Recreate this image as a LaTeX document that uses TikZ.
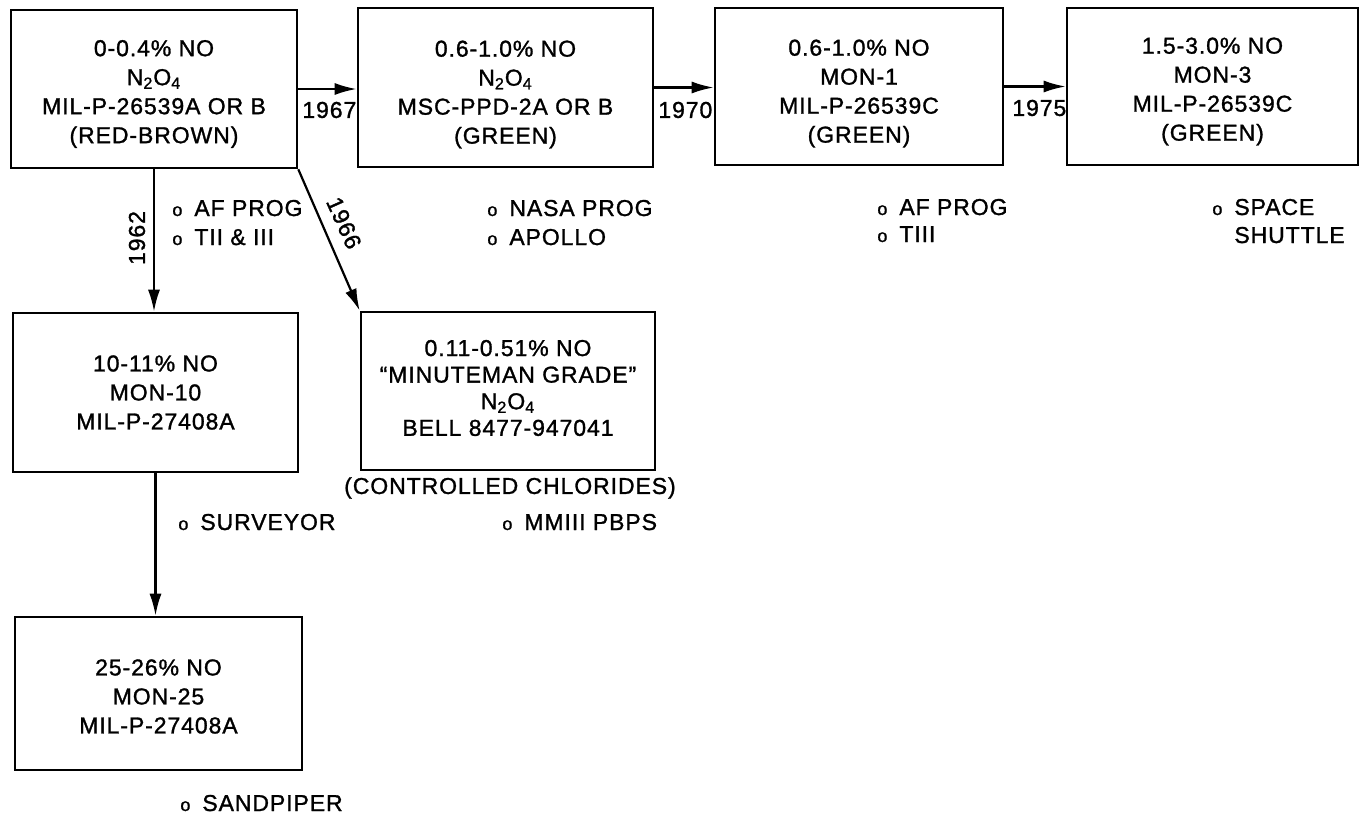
\documentclass[tikz,border=0pt]{standalone}
\usepackage{fontspec}
\setmainfont{Liberation Sans}[LetterSpace=4,FakeBold=1.2]
\usetikzlibrary{arrows.meta,calc}
\newcommand{\lbf}{\fontsize{11.5}{14.5}\selectfont}
\newcommand{\lbff}{\fontsize{11.5}{13.3}\selectfont}
\newcommand{\bulo}{\makebox[11pt][l]{\fontsize{9}{9}\selectfont o}}
\tikzset{
 box/.style={draw,line width=1.3pt,inner sep=0pt},
 boxtxt/.style={inner sep=0pt,align=center,font=\lbf},
 arr/.style={line width=1.1pt,-{Latex[length=11pt,width=6pt]}},
 lbl/.style={font=\lbf,inner sep=0pt},
 itm/.style={font=\lbf,inner sep=0pt,anchor=base west},
}
\begin{document}
\begin{tikzpicture}[x=0.5pt,y=-0.5pt]
\useasboundingbox (0,0) rectangle (1361,819);
% boxes
\node[box,minimum width=143pt,minimum height=79pt] (A) at (154,89) {};
\node[box,minimum width=147.5pt,minimum height=79.5pt] (B) at (505.5,87.5) {};
\node[box,minimum width=144pt,minimum height=78.5pt] (C) at (859,86.5) {};
\node[box,minimum width=145.5pt,minimum height=78.5pt] (D) at (1212.5,86.5) {};
\node[box,minimum width=142.5pt,minimum height=79.5pt] (E) at (155.5,392.5) {};
\node[box,minimum width=147pt,minimum height=79pt] (F) at (508,391) {};
\node[box,minimum width=143.5pt,minimum height=76.5pt] (G) at (158.5,693.5) {};
% box texts
\node[boxtxt] (At) at ($(A.center)+(0,5)$)
 {0-0.4\% NO\\N\textsubscript{2}O\textsubscript{4}\\MIL-P-26539A OR B\\(RED-BROWN)};
\node[boxtxt] (Bt) at ($(B.center)+(0,7)$)
 {0.6-1.0\% NO\\N\textsubscript{2}O\textsubscript{4}\\MSC-PPD-2A OR B\\(GREEN)};
\node[boxtxt] (Ct) at ($(C.center)+(0,7)$)
 {0.6-1.0\% NO\\MON-1\\MIL-P-26539C\\(GREEN)};
\node[boxtxt] (Dt) at ($(D.center)+(0,5)$)
 {1.5-3.0\% NO\\MON-3\\MIL-P-26539C\\(GREEN)};
\node[boxtxt] (Et) at (E.center)
 {10-11\% NO\\MON-10\\MIL-P-27408A};
\node[boxtxt,font=\lbff] (Ft) at ($(F.center)+(0,-3)$)
 {0.11-0.51\% NO\\``MINUTEMAN GRADE''\\N\textsubscript{2}O\textsubscript{4}\\BELL 8477-947041};
\node[boxtxt] (Gt) at ($(G.center)+(0,3)$)
 {25-26\% NO\\MON-25\\MIL-P-27408A};
% connectors
\draw[arr] (A.east) -- (A.east -| B.west);
\draw[arr] (B.east) -- (B.east -| C.west);
\draw[arr] (C.east) -- (C.east -| D.west);
\draw[arr] (A.south) -- (A.south |- E.north);
\draw[arr] (A.south east) -- (F.north west);
\draw[arr] (E.south) -- (E.south |- G.north);
% year labels
\node[lbl,anchor=west] (y67) at (302,110) {1967};
\node[lbl,anchor=west] (y70) at (658,110) {1970};
\node[lbl,anchor=west] (y75) at (1012,108) {1975};
\node[lbl,rotate=90] (y62) at (137,238) {1962};
\node[lbl,rotate=-65.9] (y66) at (344,223) {1966};
% notes
\node[itm] (nA1) at (172,216) {\bulo AF PROG};
\node[itm] (nA2) at (172,245) {\bulo TII \& III};
\node[itm] (nB1) at (487,216) {\bulo NASA PROG};
\node[itm] (nB2) at (487,245) {\bulo APOLLO};
\node[itm] (nC1) at (877,215) {\bulo AF PROG};
\node[itm] (nC2) at (877,242) {\bulo TIII};
\node[itm] (nD1) at (1212,215) {\bulo SPACE};
\node[itm] (nD2) at (1212,243) {\phantom{\bulo}SHUTTLE};
\node[lbl] (ctl) at (510,488) {(CONTROLLED CHLORIDES)};
\node[itm] (nE) at (178,530) {\bulo SURVEYOR};
\node[itm] (nF) at (502,530) {\bulo MMIII PBPS};
\node[itm] (nG) at (180,811) {\bulo SANDPIPER};
\end{tikzpicture}
\end{document}
